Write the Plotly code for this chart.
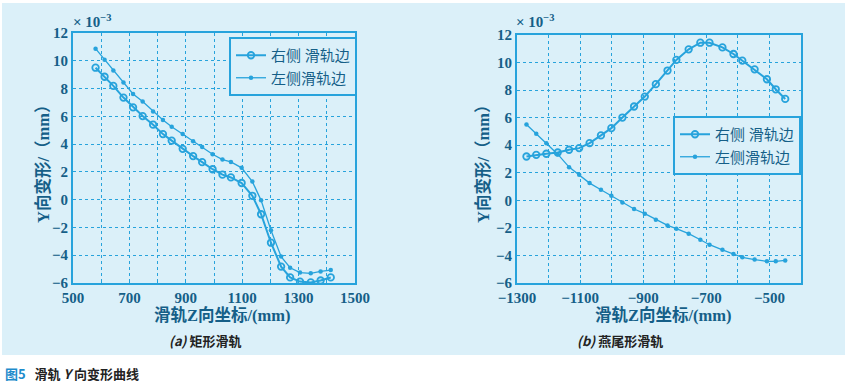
import plotly.graph_objects as go

# ---- data (a) rectangular rail ----
za = [580, 612, 643, 679, 713, 747, 784, 819, 850, 889, 926, 958, 995, 1030, 1060,
      1098, 1136, 1167, 1202, 1238, 1270, 1305, 1343, 1378, 1414]
a_right = [9.5, 8.85, 8.19, 7.35, 6.65, 6.02, 5.4, 4.72, 4.25, 3.66, 3.14, 2.7, 2.19,
           1.8, 1.6, 1.2, 0.28, -1.05, -3.1, -4.82, -5.6, -5.9, -5.96, -5.82, -5.6]
a_left = [10.87, 10.07, 9.3, 8.43, 7.61, 7.06, 6.34, 5.73, 5.25, 4.72, 4.21, 3.8, 3.27,
          2.89, 2.72, 2.29, 1.3, -0.05, -2.2, -4.1, -4.9, -5.25, -5.3, -5.17, -5.07]

# ---- data (b) dovetail rail ----
zb = [-1270, -1239, -1207, -1171, -1135, -1103, -1070, -1034, -1001, -966, -929, -895,
      -860, -823, -795, -756, -719, -690, -649, -614, -586, -547, -508, -480, -450]
b_right = [3.18, 3.3, 3.38, 3.47, 3.67, 3.79, 4.15, 4.71, 5.24, 6.01, 6.81, 7.53, 8.43,
           9.42, 10.19, 10.96, 11.44, 11.44, 11.1, 10.62, 10.14, 9.51, 8.79, 8.06, 7.36]
b_left = [5.5, 4.83, 4.15, 3.35, 2.41, 1.86, 1.25, 0.77, 0.33, -0.15, -0.63, -0.97, -1.41,
          -1.82, -2.06, -2.42, -2.86, -3.22, -3.59, -3.9, -4.14, -4.3, -4.43, -4.43, -4.36]

names = ["右侧 滑轨边", "左侧滑轨边"]
xlabels_a = [500, 700, 900, 1100, 1300, 1500]
xlabels_b = [-1300, -1100, -900, -700, -500]
yticks = list(range(-6, 13, 2))

W, H = 847, 385
LINE = "#27a3dc"
TXT = "#155f88"
BG = "#dbf0f9"
FONT = "Liberation Serif, Noto Sans CJK SC, serif"

fig = go.Figure()

def add_pair(x, yr, yl, xa, ya, legend):
    fig.add_trace(go.Scatter(x=x, y=yr, name=names[0], mode="lines+markers",
                             line=dict(color=LINE, width=2),
                             marker=dict(symbol="circle-open", size=6.5, color=LINE,
                                         line=dict(width=1.8)),
                             xaxis=xa, yaxis=ya, legend=legend))
    fig.add_trace(go.Scatter(x=x, y=yl, name=names[1], mode="lines+markers",
                             line=dict(color=LINE, width=1.3),
                             marker=dict(symbol="circle", size=4.5, color=LINE),
                             xaxis=xa, yaxis=ya, legend=legend))

add_pair(za, a_right, a_left, "x", "y", "legend")
add_pair(zb, b_right, b_left, "x2", "y2", "legend2")

def px(v):
    return v / W

def py(v):
    return 1 - v / H

axis_common = dict(showline=True, mirror=True, linecolor=LINE, linewidth=2,
                   showgrid=True, gridcolor=LINE, griddash="dot", gridwidth=1.4,
                   zeroline=False, ticks="inside", ticklen=3, tickcolor=LINE,
                   automargin=False,
                   tickfont=dict(family=FONT, size=15, color=TXT, weight="bold"))
minor_x = dict(dtick=100, showgrid=True, gridcolor=LINE, griddash="dot",
               gridwidth=1.4, ticks="inside", ticklen=3, tickcolor=LINE)

leg_common = dict(xanchor="left", yanchor="top", bgcolor=BG, bordercolor=LINE,
                  borderwidth=2, font=dict(family=FONT, size=15, color=TXT),
                  tracegroupgap=0, itemwidth=30)

fig.update_layout(
    width=W, height=H, margin=dict(l=0, r=0, t=0, b=0, autoexpand=False),
    paper_bgcolor="white", plot_bgcolor="rgba(0,0,0,0)",
    xaxis=dict(domain=[px(73), px(355)], range=[500, 1500], tickvals=xlabels_a,
               minor=dict(tick0=500, **minor_x), anchor="y", **axis_common),
    yaxis=dict(domain=[py(283), py(33)], range=[-6, 12], tickvals=yticks,
               anchor="x", **axis_common),
    xaxis2=dict(domain=[px(517), px(801)], range=[-1300, -400], tickvals=xlabels_b,
                minor=dict(tick0=-1300, **minor_x), anchor="y2", **axis_common),
    yaxis2=dict(domain=[py(283), py(35)], range=[-6, 12], tickvals=yticks,
                anchor="x2", **axis_common),
    legend=dict(x=px(229), y=py(37), **leg_common),
    legend2=dict(x=px(673), y=py(116), **leg_common),
    showlegend=True,
)

# light-blue panel
fig.add_shape(type="rect", xref="paper", yref="paper", x0=px(2), x1=px(845),
              y0=py(355), y1=py(3), fillcolor=BG, line=dict(width=0), layer="below")

ann_font = dict(family=FONT, size=16.5, color=TXT, weight="bold")
anns = [
    dict(x=px(43), y=py(160), text="Y向变形/（mm）", textangle=-90, font=ann_font),
    dict(x=px(483), y=py(160), text="Y向变形/（mm）", textangle=-90, font=ann_font),
    dict(x=px(222), y=py(315), text="滑轨Z向坐标/(mm)", font=ann_font),
    dict(x=px(663), y=py(315), text="滑轨Z向坐标/(mm)", font=ann_font),
    dict(x=px(71), y=py(21), text="× 10<sup>−3</sup>", xanchor="left",
         font=dict(family=FONT, size=15, color=TXT, weight="bold")),
    dict(x=px(514), y=py(21), text="× 10<sup>−3</sup>", xanchor="left",
         font=dict(family=FONT, size=15, color=TXT, weight="bold")),
    dict(x=px(205), y=py(340), text="<i>(a)</i> 矩形滑轨",
         font=dict(family="Noto Sans CJK SC", size=13, color="#222", weight="bold")),
    dict(x=px(620), y=py(340), text="<i>(b)</i> 燕尾形滑轨",
         font=dict(family="Noto Sans CJK SC", size=13, color="#222", weight="bold")),
    dict(x=px(3), y=py(373), xanchor="left",
         text="<span style='color:#1e8ccc'>图5</span>   滑轨 <i>Y</i> 向变形曲线",
         font=dict(family="Noto Sans CJK SC", size=13, color="#222", weight="bold")),
]
for a in anns:
    a.setdefault("xanchor", "center")
    a.update(xref="paper", yref="paper", showarrow=False, yanchor="middle")
    fig.add_annotation(**a)

fig.write_html("out.html", config={"displayModeBar": False},
               post_script="document.body.style.margin='0';")
